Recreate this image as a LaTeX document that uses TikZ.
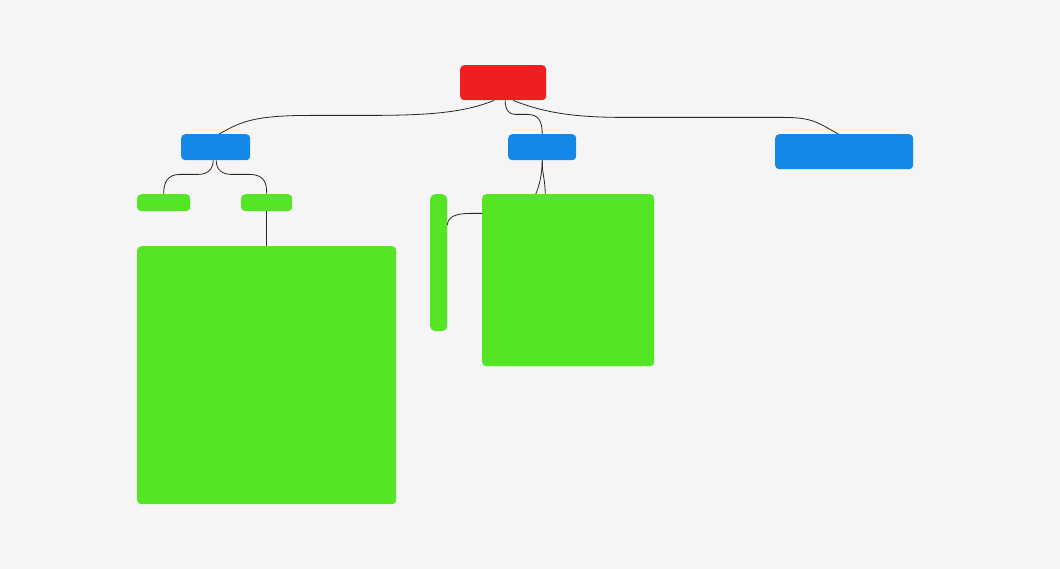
\documentclass[tikz,border=0pt]{standalone}
\usetikzlibrary{positioning}
\definecolor{paper}{HTML}{F5F5F5}
\definecolor{rootred}{HTML}{F01E22}
\definecolor{topicblue}{HTML}{1488E6}
\definecolor{leafgreen}{HTML}{54E625}
\tikzstyle{topic} = [rectangle, rounded corners=4pt, inner sep=0pt, anchor=north west]
\tikzstyle{central} = [topic, fill=rootred]
\tikzstyle{branch} = [topic, fill=topicblue]
\tikzstyle{leaf} = [topic, fill=leafgreen]
\tikzstyle{link} = [draw=black!85, line width=0.8pt]
\pgfdeclarelayer{paper}
\pgfdeclarelayer{links}
\pgfsetlayers{paper,links,main}

\begin{document}
\begin{tikzpicture}[x=1pt, y=-1pt]
  \useasboundingbox (0,0) rectangle (1060,569);
  \begin{pgfonlayer}{paper}
    \fill[paper] (0,0) rectangle (1060,569);
  \end{pgfonlayer}

  \node[central, minimum width=86pt, minimum height=35pt] (root) at (460,65) {};
  \node[branch, minimum width=69pt, minimum height=26pt] (b1) at (181,134) {};
  \node[branch, minimum width=68pt, minimum height=26pt] (b2) at (508,134) {};
  \node[branch, minimum width=138pt, minimum height=35pt] (b3) at (775,134) {};
  \node[leaf, minimum width=53pt, minimum height=17pt] (l1) at (137,194) {};
  \node[leaf, minimum width=51pt, minimum height=17pt] (l2) at (241,194) {};
  \node[leaf, minimum width=259pt, minimum height=258pt] (big) at (137,246) {};
  \node[leaf, rounded corners=5pt, minimum width=17pt, minimum height=137pt] (bar) at (430,194) {};
  \node[leaf, minimum width=172pt, minimum height=172pt] (box) at (482,194) {};

  \begin{pgfonlayer}{links}
    % root to the three branches
    \path[link] ([xshift=-9pt]root.south) .. controls +(-30,12) and +(60,0) .. ++(-124,15)
      -- ++(-60,0) .. controls +(-60,0) and +(20,-11) .. ([xshift=3.5pt]b1.north);
    \path[link] ([xshift=2pt]root.south) .. controls +(0,10) and +(-6,0) .. ++(10,14)
      -- ++(12,0) .. controls +(12,0) and +(0,-12) .. (b2.north);
    \path[link] ([xshift=10pt]root.south) .. controls +(30,12) and +(-50,0) .. ++(110,17)
      -- ++(160,0) .. controls +(30,0) and +(-20,-11) .. ([xshift=-6pt]b3.north);
    % left branch
    \path[link] ([xshift=-2.5pt]b1.south) .. controls +(0,10) and +(8,0) .. ++(-15,14)
      -- ++(-18,0) .. controls +(-14,0) and +(0,-10) .. (l1.north);
    \path[link] ([xshift=0.5pt]b1.south) .. controls +(0,10) and +(-8,0) .. ++(15,14)
      -- ++(18,0) .. controls +(16,0) and +(0,-10) .. (l2.north);
    \path[link] (l2.south) -- (big.north);
    % middle branch
    \path[link] (b2.south) .. controls +(0,15) and +(0,-15) .. ([xshift=-23pt]box.north);
    \path[link] (b2.south) .. controls +(0,25) and +(20,0) .. ++(-30,53)
      -- ++(-42,0) .. controls +(-15,0) and +(0,-8) .. ([yshift=37.5pt]bar.east);
  \end{pgfonlayer}
\end{tikzpicture}
\end{document}
